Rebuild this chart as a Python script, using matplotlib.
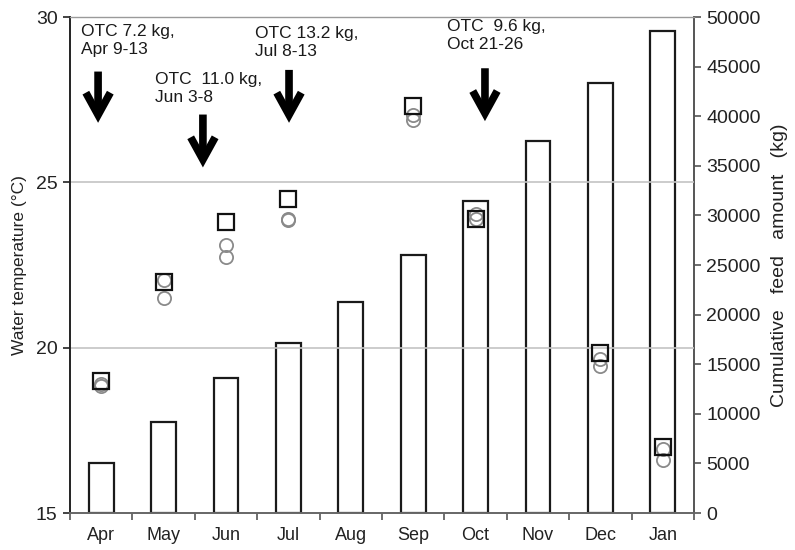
import numpy as np
import matplotlib
matplotlib.use("Agg")
import matplotlib.pyplot as plt
from matplotlib.ticker import FixedLocator

plt.rcParams['font.family'] = ['Liberation Sans', 'DejaVu Sans']

months = ['Apr', 'May', 'Jun', 'Jul', 'Aug', 'Sep', 'Oct', 'Nov', 'Dec', 'Jan']
cumulative_feed = [5000, 9200, 13600, 17100, 21300, 26000, 31500, 37500, 43300, 48600]
temp_square = [19.0, 22.0, 23.8, 24.5, np.nan, 27.3, 23.9, np.nan, 19.85, 17.0]
temp_circle_a = [18.9, 22.05, 23.1, 23.9, np.nan, 27.05, 24.05, np.nan, 19.65, 16.95]
temp_circle_b = [18.85, 21.5, 22.75, 23.85, np.nan, 26.9, 23.9, np.nan, 19.45, 16.6]

# OTC treatments: label, arrow x (month index), arrow top, arrow tip (deg C)
otc_labels = ['OTC 7.2 kg,\nApr 9-13', 'OTC  11.0 kg,\nJun 3-8',
              'OTC 13.2 kg,\nJul 8-13', 'OTC  9.6 kg,\nOct 21-26']
otc_arrow_x = [-0.05, 1.63, 3.01, 6.15]
otc_arrow_top = [28.35, 27.05, 28.4, 28.45]
otc_arrow_tip = [26.8, 25.45, 26.8, 26.85]
otc_text_x = [-0.33, 0.86, 2.46, 5.54]
otc_text_y = [29.78, 28.33, 29.74, 29.93]

fig = plt.figure(figsize=(7.95, 5.5), dpi=100)
ax = fig.add_axes([70 / 795, 37 / 550, 624 / 795, 496 / 550])
ax2 = ax.twinx()

x = np.arange(len(months))

# cumulative feed bars on the right axis
ax2.bar(x, cumulative_feed, width=0.4, facecolor='none', edgecolor='#1a1a1a',
        linewidth=1.6, zorder=2)
ax2.set_ylim(0, 50000)
ax2.set_yticks(np.arange(0, 50001, 5000))
ax2.tick_params(axis='y', labelsize=14, length=5, width=1.2, direction='out',
                colors='#555555', labelcolor='#222222', pad=4)
ax2.set_ylabel('Cumulative   feed   amount   (kg)', fontsize=14, color='#222222',
               labelpad=7)

# temperature markers on the left axis, drawn above the bars
ax.set_zorder(ax2.get_zorder() + 1)
ax.patch.set_visible(False)
ax.plot(x, temp_circle_b, linestyle='none', marker='o', markersize=9.5,
        markerfacecolor='none', markeredgecolor='#8a8a8a', markeredgewidth=1.3)
ax.plot(x, temp_circle_a, linestyle='none', marker='o', markersize=9.5,
        markerfacecolor='none', markeredgecolor='#8a8a8a', markeredgewidth=1.3)
ax.plot(x, temp_square, linestyle='none', marker='s', markersize=11.5,
        markerfacecolor='none', markeredgecolor='#111111', markeredgewidth=1.6)

ax.set_xlim(-0.5, len(months) - 0.5)
ax.set_ylim(15, 30)
ax.set_yticks([15, 20, 25, 30])
for g in [20, 25]:
    ax.axhline(g, color='#c4c4c4', linewidth=1.2, zorder=0)

ax.set_xticks(x)
ax.set_xticklabels(months, fontsize=13, color='#222222')
ax.xaxis.set_minor_locator(FixedLocator(np.arange(-0.5, len(months), 1.0)))
ax.tick_params(axis='x', which='major', length=0, pad=10)
ax.tick_params(axis='x', which='minor', length=5, width=1.2, direction='out',
               colors='#555555')
ax.tick_params(axis='y', labelsize=14, length=5, width=1.2, direction='out',
               colors='#222222', labelcolor='#222222', pad=4)
ax.set_ylabel('Water temperature (°C)', fontsize=12.5, color='#222222', labelpad=6)

ax.spines['left'].set_color('#222222')
ax.spines['left'].set_linewidth(1.4)
ax.spines['bottom'].set_color('#666666')
ax.spines['bottom'].set_linewidth(1.4)
ax.spines['top'].set_color('#9a9a9a')
ax.spines['top'].set_linewidth(1.0)
ax.spines['right'].set_visible(False)
ax2.spines['right'].set_color('#555555')
ax2.spines['right'].set_linewidth(1.4)
for sp in ['left', 'top', 'bottom']:
    ax2.spines[sp].set_visible(False)

for lab, ax_x, y0, y1, tx, ty in zip(otc_labels, otc_arrow_x, otc_arrow_top,
                                      otc_arrow_tip, otc_text_x, otc_text_y):
    ax.annotate('', xy=(ax_x, y1), xytext=(ax_x, y0),
                arrowprops=dict(arrowstyle='->,head_length=0.4,head_width=0.22',
                                lw=5.5, color='black', shrinkA=0, shrinkB=0,
                                mutation_scale=40, capstyle='butt',
                                joinstyle='miter'))
    ax.text(tx, ty, lab, fontsize=12.5, color='#1a1a1a', ha='left', va='top',
            linespacing=1.25)

fig.savefig('out.png', dpi=100)
